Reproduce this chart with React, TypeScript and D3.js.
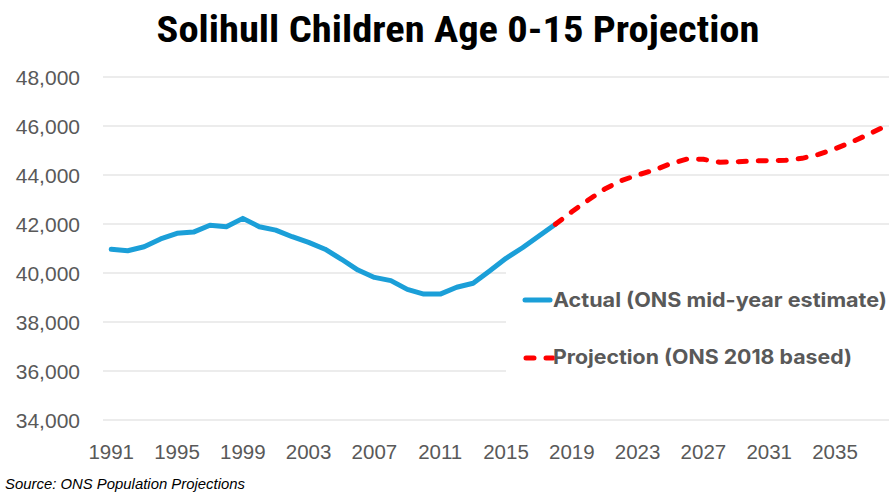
import React from "react";
import * as d3 from "d3";

const actualYears = [1991,1992,1993,1994,1995,1996,1997,1998,1999,2000,2001,2002,2003,2004,2005,2006,2007,2008,2009,2010,2011,2012,2013,2014,2015,2016,2017,2018];
const actualValues = [40970,40910,41070,41390,41620,41670,41950,41890,42230,41890,41750,41480,41250,40970,40560,40120,39820,39690,39330,39140,39140,39420,39580,40080,40600,41030,41510,41990];
const projYears = [2018,2019,2020,2021,2022,2023,2024,2025,2026,2027,2028,2029,2030,2031,2032,2033,2034,2035,2036,2037,2038];
const projValues = [41990,42500,42980,43430,43770,44000,44200,44460,44650,44640,44520,44540,44570,44590,44600,44680,44840,45070,45340,45650,45970];
const yTicks = [34000,36000,38000,40000,42000,44000,46000,48000];
const xTickLabels = [1991,1995,1999,2003,2007,2011,2015,2019,2023,2027,2031,2035];

const W = 889, H = 494;
const STEP = 16.45;
const LEFT = 103;

export default function App() {
  const x = d3.scaleLinear().domain([1990.5, 2038.5]).range([LEFT, LEFT + 48 * STEP]);
  const y = d3.scaleLinear().domain([34000, 48000]).range([420, 77]);
  const line = d3.line<[number, number]>().x(d => x(d[0])).y(d => y(d[1]));
  const actual = line(actualYears.map((yr, i) => [yr, actualValues[i]]) as [number, number][]) || "";
  const proj = line(projYears.map((yr, i) => [yr, projValues[i]]) as [number, number][]) || "";
  const fmt = d3.format(",");
  const gray = "#595959";
  return (
    <svg width={W} height={H} style={{ position: "absolute", left: 0, top: 0, background: "#fff" }}>
      <rect x={0} y={0} width={W} height={H} fill="#fff" />
      <text x={458} y={42} textAnchor="middle" fontFamily="'Liberation Sans Narrow','Roboto Condensed','DejaVu Sans Condensed',Roboto,sans-serif" fontWeight="bold" fontSize={37} fill="#000" textLength={603} lengthAdjust="spacingAndGlyphs">Solihull Children Age 0-15 Projection</text>
      {yTicks.map(t => (
        <g key={t}>
          <line x1={LEFT} x2={W} y1={y(t)} y2={y(t)} stroke="#d9d9d9" strokeWidth={1} />
          <text x={80} y={y(t) + 7.5} textAnchor="end" fontFamily="'Liberation Sans',Arial,sans-serif" fontSize={21} fill={gray}>{fmt(t)}</text>
        </g>
      ))}
      {xTickLabels.map(t => (
        <text key={t} x={x(t)} y={459} textAnchor="middle" fontFamily="'Liberation Sans',Arial,sans-serif" fontSize={20.5} fill={gray}>{t}</text>
      ))}
      <rect x={506} y={264} width={W - 506} height={130} fill="#fff" />
      <path d={actual} fill="none" stroke="#1B9FD8" strokeWidth={5} strokeLinejoin="round" strokeLinecap="round" />
      <path d={proj} fill="none" stroke="#FF0000" strokeWidth={5} strokeLinejoin="round" strokeLinecap="round" strokeDasharray="8 12" />
      <line x1={525} x2={550} y1={300} y2={300} stroke="#1B9FD8" strokeWidth={5} strokeLinecap="round" />
      <line x1={526} x2={553} y1={358} y2={358} stroke="#FF0000" strokeWidth={5} strokeLinecap="round" strokeDasharray="8 12" />
      <text x={553} y={307} fontFamily="Inter,'Open Sans',sans-serif" fontWeight="bold" fontSize={20} fill={gray} textLength={334} lengthAdjust="spacingAndGlyphs">Actual (ONS mid-year estimate)</text>
      <text x={553} y={364} fontFamily="Inter,'Open Sans',sans-serif" fontWeight="bold" fontSize={20} fill={gray} textLength={299} lengthAdjust="spacingAndGlyphs">Projection (ONS 2018 based)</text>
      <text x={5} y={489} fontFamily="'Liberation Sans',Arial,sans-serif" fontStyle="italic" fontSize={14} fill="#000" textLength={240} lengthAdjust="spacingAndGlyphs">Source: ONS Population Projections</text>
    </svg>
  );
}
